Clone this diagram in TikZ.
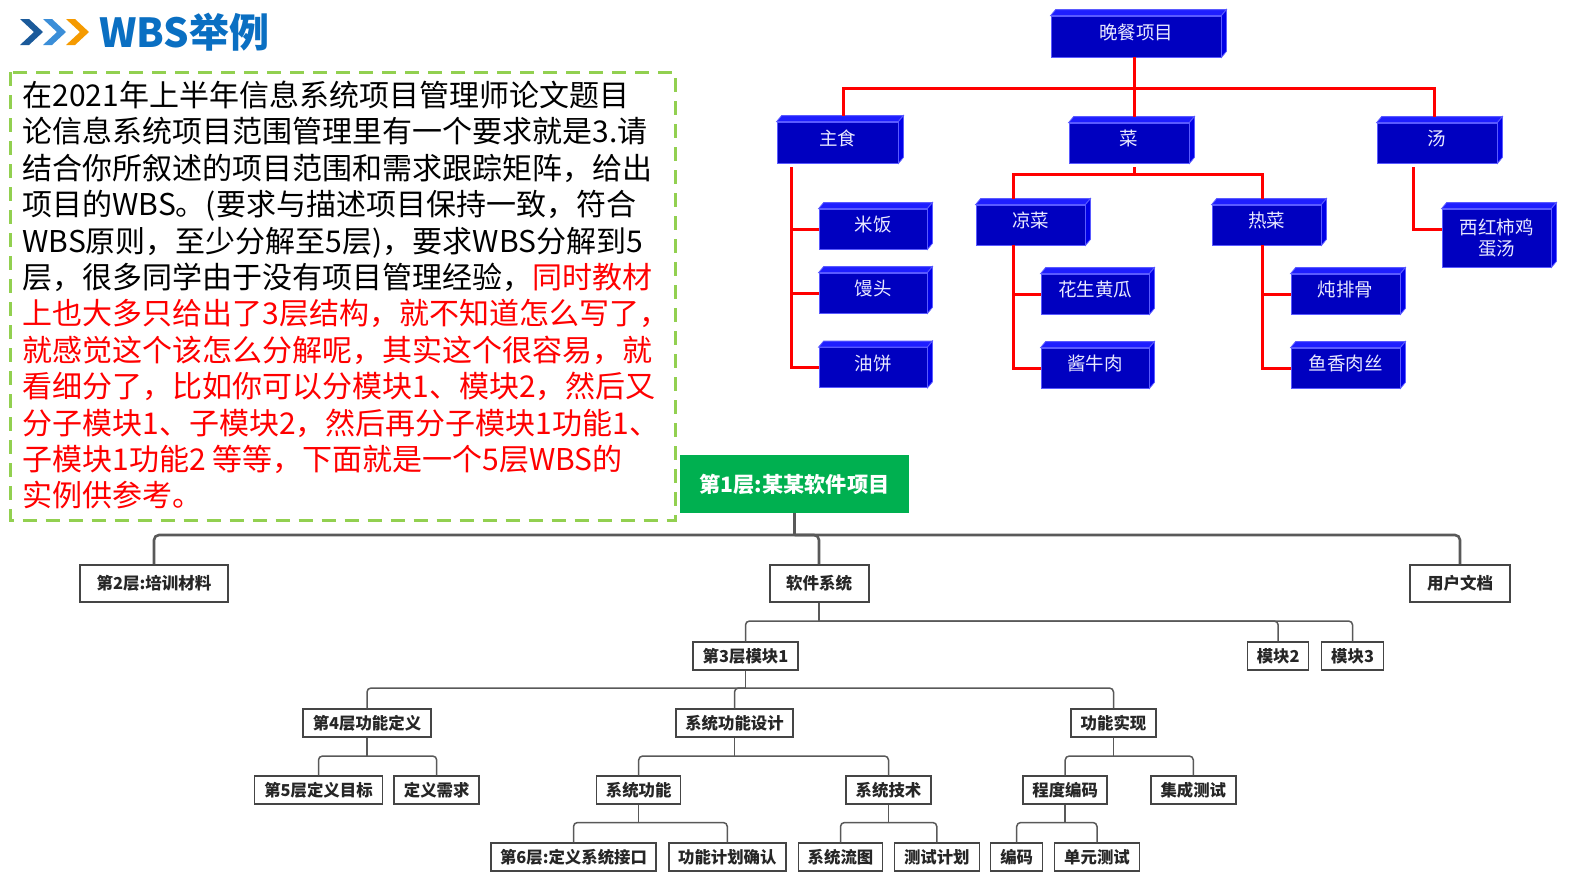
\documentclass[tikz,border=0pt]{standalone}
\usepackage{fontspec}
\setmainfont{Noto Sans CJK SC}
\usetikzlibrary{calc}
\definecolor{dfront}{HTML}{0000C0}
\definecolor{dtopc}{HTML}{1E1EFF}
\definecolor{dsidec}{HTML}{0000E6}
\definecolor{dedge}{HTML}{5A5AFF}
\definecolor{dtxt}{HTML}{E8E8FF}
\definecolor{titleblue}{HTML}{0A6FC2}
\definecolor{chevA}{HTML}{1B5A9A}
\definecolor{chevB}{HTML}{3B8ED8}
\definecolor{chevC}{HTML}{F59A00}
\definecolor{dashgreen}{HTML}{92D050}
\definecolor{rootgreen}{HTML}{00B050}
\definecolor{boxedge}{HTML}{454545}
\definecolor{boxtxt}{HTML}{262626}
\definecolor{connc}{HTML}{595959}
\newcommand{\dinbox}[7][]{%
  \node[dbox, #1, minimum width=#5*0.5pt, minimum height=#6*0.5pt] (#2) at (#3,#4) {#7};
  \filldraw[dtop] (#2.north west) -- ++(5,-6) -- ([shift={(5,-6)}]#2.north east) -- (#2.north east) -- cycle;
  \filldraw[dside] (#2.north east) -- ++(5,-6) -- ([shift={(5,-6)}]#2.south east) -- (#2.south east) -- cycle;
}
\begin{document}
\begin{tikzpicture}[x=0.5pt,y=-0.5pt,
  bodytext/.style={anchor=base west, inner sep=0pt, font=\fontsize{15}{18}\selectfont},
  dbox/.style={fill=dfront, draw=dedge, line width=0.4pt, text=dtxt, inner sep=0pt,
     font=\fontsize{9.25}{10}\selectfont, text height=7pt, text depth=4.5pt, align=center},
  dtop/.style={fill=dtopc, draw=dedge, line width=0.4pt},
  dside/.style={fill=dsidec, draw=dedge, line width=0.4pt},
  redline/.style={draw=red, line width=1.5pt},
  wbox/.style={draw=boxedge, line width=0.75pt, fill=white, inner sep=0pt, text=boxtxt,
     font=\fontsize{8.2}{10}\selectfont\bfseries, minimum height=14pt},
  wboxL/.style={wbox, line width=1pt, minimum height=18.5pt, font=\fontsize{8.25}{10}\selectfont\bfseries},
  conn/.style={draw=connc, line width=0.75pt, rounded corners=2pt},
  connB/.style={draw=connc, line width=1.3pt, rounded corners=2.5pt}
]
\useasboundingbox (0,0) rectangle (1594,895);

% ---------- title ----------
\fill[chevA] (20,19) -- (29,19) -- (43,32) -- (29,45) -- (20,45) -- (34,32) -- cycle;
\fill[chevB] (43,19) -- (52,19) -- (66,32) -- (52,45) -- (43,45) -- (57,32) -- cycle;
\fill[chevC] (66,19) -- (75,19) -- (89,32) -- (75,45) -- (66,45) -- (80,32) -- cycle;
\node[anchor=base west, inner sep=0pt, text=titleblue, font=\fontsize{20}{24}\selectfont\bfseries] (title) at (99,47) {WBS举例};

% ---------- dashed text box ----------
\draw[dashgreen, line width=1.5pt, dash pattern=on 7pt off 4.5pt] (10.5,72) rectangle (675,520);
\node[bodytext] (t1) at (22,106.5) {在2021年上半年信息系统项目管理师论文题目};
\node[bodytext] (t2) at (22,142.9) {论信息系统项目范围管理里有一个要求就是3.请};
\node[bodytext] (t3) at (22,179.3) {结合你所叙述的项目范围和需求跟踪矩阵，给出};
\node[bodytext] (t4) at (22,215.7) {项目的WBS。(要求与描述项目保持一致，符合};
\node[bodytext] (t5) at (22,252.1) {WBS原则，至少分解至5层)，要求WBS分解到5};
\node[bodytext] (t6) at (22,288.5) {层，很多同学由于没有项目管理经验，\textcolor{red}{同时教材}};
\node[bodytext, text=red] (t7) at (22,324.9) {上也大多只给出了3层结构，就不知道怎么写了，};
\node[bodytext, text=red] (t8) at (22,361.3) {就感觉这个该怎么分解呢，其实这个很容易，就};
\node[bodytext, text=red] (t9) at (22,397.7) {看细分了，比如你可以分模块1、模块2，然后又};
\node[bodytext, text=red] (t10) at (22,434.1) {分子模块1、子模块2，然后再分子模块1功能1、};
\node[bodytext, text=red] (t11) at (22,470.5) {子模块1功能2 等等，下面就是一个5层WBS的};
\node[bodytext, text=red] (t12) at (22,506.9) {实例供参考。};

% ---------- dinner tree: connectors ----------
\coordinate (bus0) at (1134.5,88.5);
\coordinate (bus1) at (1134.5,174);

% ---------- dinner tree: nodes ----------
\dinbox{d0}{1136}{36.5}{170}{41}{晚餐项目}
\dinbox{zs}{837.5}{142.5}{121}{41}{主食}
\dinbox{cai}{1129}{143}{120}{40}{菜}
\dinbox{tang}{1437}{143}{120}{40}{汤}
\dinbox{mf}{873}{229}{108}{40}{米饭}
\dinbox{mt}{873}{293}{108}{40}{馒头}
\dinbox{yb}{873}{367.5}{108}{40}{油饼}
\dinbox{lc}{1030.5}{225}{109}{40}{凉菜}
\dinbox{rc}{1266.5}{225}{109}{40}{热菜}
\dinbox{hs}{1095}{294}{108}{40}{花生黄瓜}
\dinbox{jn}{1095}{368}{108}{40}{酱牛肉}
\dinbox{dp}{1345.5}{294}{109}{40}{炖排骨}
\dinbox{yx}{1345.5}{368}{109}{40}{鱼香肉丝}
\dinbox[text height=, text depth=]{xh}{1496.5}{238}{109}{58}{西红柿鸡\\[0.6pt]蛋汤}

\draw[redline] ([xshift=-0.75pt]d0.south) -- (bus0);
\draw[redline] ([xshift=3pt,yshift=3pt]zs.north) |- (bus0) -| ([xshift=-1.25pt,yshift=3pt]tang.north);
\draw[redline] (bus0) -- ([xshift=2.75pt,yshift=3pt]cai.north);
\draw[redline] ([xshift=2.75pt,yshift=-2pt]cai.south) -- (bus1);
\draw[redline] ([xshift=-8.75pt,yshift=3pt]lc.north) |- (bus1) -| ([xshift=-1.9pt,yshift=3pt]rc.north);
\draw[redline] ([xshift=-8.75pt]lc.south) |- (hs.west);
\draw[redline] ([xshift=-8.75pt]lc.south) |- (jn.west);
\draw[redline] ([xshift=-1.9pt]rc.south) |- (dp.west);
\draw[redline] ([xshift=-1.9pt]rc.south) |- (yx.west);
\draw[redline] ([xshift=-23.25pt,yshift=-2pt]zs.south) |- (mf.west);
\draw[redline] ([xshift=-23.25pt,yshift=-2pt]zs.south) |- (mt.west);
\draw[redline] ([xshift=-23.25pt,yshift=-2pt]zs.south) |- (yb.west);
\draw[redline] ([xshift=-11.85pt,yshift=-2pt]tang.south) |- ([yshift=4.15pt]xh.west);

% ---------- software WBS ----------
\node[fill=rootgreen, text=white, inner sep=0pt, minimum width=114.5pt, minimum height=29pt,
      font=\fontsize{10.6}{12}\selectfont\bfseries] (root) at (794.5,484) {第1层:某某软件项目};

\node[wboxL, minimum width=74pt] (p2a) at (154,583.5) {第2层:培训材料};
\node[wboxL, minimum width=49.5pt] (p2b) at (819,583.5) {软件系统};
\node[wboxL, minimum width=50pt] (p2c) at (1460,583.5) {用户文档};

\node[wbox, minimum width=52.5pt] (p3a) at (745.5,656) {第3层模块1};
\node[wbox, minimum width=30.5pt] (p3b) at (1278.2,656) {模块2};
\node[wbox, minimum width=31pt] (p3c) at (1352.6,656) {模块3};

\node[wbox, minimum width=64pt] (p4a) at (367,723) {第4层功能定义};
\node[wbox, minimum width=58.5pt] (p4b) at (734.5,723) {系统功能设计};
\node[wbox, minimum width=42.5pt] (p4c) at (1113.5,723) {功能实现};

\node[wbox, minimum width=64pt] (p5a) at (318.5,790) {第5层定义目标};
\node[wbox, minimum width=42.5pt] (p5b) at (436.7,790) {定义需求};
\node[wbox, minimum width=42pt] (p5c) at (638.7,790) {系统功能};
\node[wbox, minimum width=42.5pt] (p5d) at (888.5,790) {系统技术};
\node[wbox, minimum width=42pt] (p5e) at (1065.2,790) {程度编码};
\node[wbox, minimum width=42.5pt] (p5f) at (1193.3,790) {集成测试};

\node[wbox, minimum width=82.5pt] (p6a) at (573.5,857) {第6层:定义系统接口};
\node[wbox, minimum width=58.5pt] (p6b) at (727.3,857) {功能计划确认};
\node[wbox, minimum width=42pt] (p6c) at (840.5,857) {系统流图};
\node[wbox, minimum width=42.5pt] (p6d) at (936.8,857) {测试计划};
\node[wbox, minimum width=26pt] (p6e) at (1016.7,857) {编码};
\node[wbox, minimum width=42.5pt] (p6f) at (1097,857) {单元测试};

\coordinate (c1) at (794.5,535);
\draw[connB] (root.south) -- (c1);
\draw[connB] (p2a.north) |- (c1) -| (p2c.north);
\draw[connB] (c1) -| (p2b.north);

\coordinate (c2) at (819,621);
\draw[conn] (p2b.south) -- (c2);
\draw[conn] (p3a.north) |- (c2) -| (p3c.north);
\draw[conn] (c2) -| (p3b.north);

\coordinate (c3) at (745.5,688);
\draw[conn] (p3a.south) -- (c3);
\draw[conn] (p4a.north) |- (c3) -| (p4c.north);
\draw[conn] (c3) -| (p4b.north);

\coordinate (c4a) at (367,756);
\draw[conn] (p4a.south) -- (c4a);
\draw[conn] (p5a.north) |- (c4a) -| (p5b.north);
\coordinate (c4b) at (734.5,756);
\draw[conn] (p4b.south) -- (c4b);
\draw[conn] (p5c.north) |- (c4b) -| (p5d.north);
\coordinate (c4c) at (1113.5,756);
\draw[conn] (p4c.south) -- (c4c);
\draw[conn] (p5e.north) |- (c4c) -| (p5f.north);

\coordinate (c5c) at (638.7,822.5);
\draw[conn] (p5c.south) -- (c5c);
\draw[conn] (p6a.north) |- (c5c) -| (p6b.north);
\coordinate (c5d) at (888.5,822.5);
\draw[conn] (p5d.south) -- (c5d);
\draw[conn] (p6c.north) |- (c5d) -| (p6d.north);
\coordinate (c5e) at (1065.2,822.5);
\draw[conn] (p5e.south) -- (c5e);
\draw[conn] (p6e.north) |- (c5e) -| (p6f.north);
\end{tikzpicture}
\end{document}
